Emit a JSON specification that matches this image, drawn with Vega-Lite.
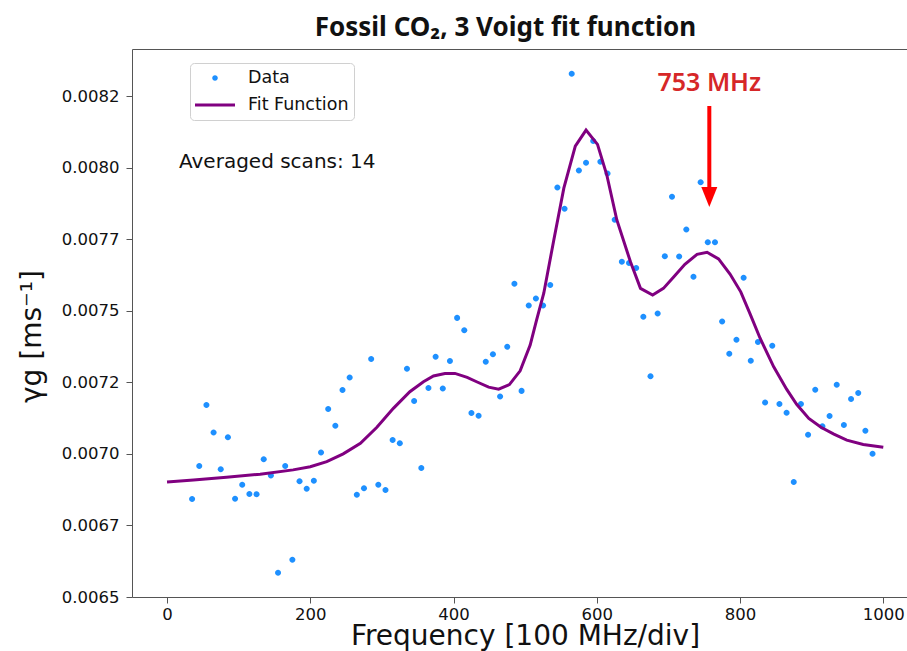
{
  "$schema": "https://vega.github.io/schema/vega-lite/v6.json",
  "width": 775,
  "height": 548,
  "autosize": {"type": "none"},
  "padding": {"left": 132, "top": 49, "right": 0, "bottom": 54},
  "background": "white",
  "title": {
    "text": "Fossil CO₂, 3 Voigt fit function",
    "font": "Liberation Sans Narrow, Noto Sans",
    "fontSize": 26,
    "fontWeight": "bold",
    "color": "#111",
    "anchor": "middle",
    "baseline": "alphabetic",
    "offset": 14,
    "dx": -14,
    "dy": 27
  },
  "config": {
    "view": {"stroke": null},
    "font": "DejaVu Sans",
    "axis": {"grid": false, "domainColor": "#555", "tickColor": "#555", "labelColor": "#111", "titleColor": "#111", "labelFont": "DejaVu Sans", "titleFont": "DejaVu Sans"}
  },
  "resolve": {"axis": {"x": "independent"}},
  "datasets": {
    "points": [
      {"x": 35, "y": 0.006842, "series": "Data"},
      {"x": 45, "y": 0.006958, "series": "Data"},
      {"x": 55, "y": 0.007171, "series": "Data"},
      {"x": 65, "y": 0.007075, "series": "Data"},
      {"x": 75, "y": 0.006946, "series": "Data"},
      {"x": 85, "y": 0.007058, "series": "Data"},
      {"x": 95, "y": 0.006843, "series": "Data"},
      {"x": 105, "y": 0.006892, "series": "Data"},
      {"x": 115, "y": 0.006860, "series": "Data"},
      {"x": 125, "y": 0.006859, "series": "Data"},
      {"x": 135, "y": 0.006981, "series": "Data"},
      {"x": 145, "y": 0.006924, "series": "Data"},
      {"x": 155, "y": 0.006585, "series": "Data"},
      {"x": 165, "y": 0.006958, "series": "Data"},
      {"x": 175, "y": 0.006630, "series": "Data"},
      {"x": 185, "y": 0.006904, "series": "Data"},
      {"x": 195, "y": 0.006878, "series": "Data"},
      {"x": 205, "y": 0.006906, "series": "Data"},
      {"x": 215, "y": 0.007005, "series": "Data"},
      {"x": 225, "y": 0.007157, "series": "Data"},
      {"x": 235, "y": 0.007098, "series": "Data"},
      {"x": 245, "y": 0.007223, "series": "Data"},
      {"x": 255, "y": 0.007267, "series": "Data"},
      {"x": 265, "y": 0.006857, "series": "Data"},
      {"x": 275, "y": 0.006880, "series": "Data"},
      {"x": 285, "y": 0.007331, "series": "Data"},
      {"x": 295, "y": 0.006892, "series": "Data"},
      {"x": 305, "y": 0.006874, "series": "Data"},
      {"x": 315, "y": 0.007048, "series": "Data"},
      {"x": 325, "y": 0.007037, "series": "Data"},
      {"x": 335, "y": 0.007297, "series": "Data"},
      {"x": 345, "y": 0.007185, "series": "Data"},
      {"x": 355, "y": 0.006951, "series": "Data"},
      {"x": 365, "y": 0.007230, "series": "Data"},
      {"x": 375, "y": 0.007339, "series": "Data"},
      {"x": 385, "y": 0.007228, "series": "Data"},
      {"x": 395, "y": 0.007324, "series": "Data"},
      {"x": 405, "y": 0.007475, "series": "Data"},
      {"x": 415, "y": 0.007432, "series": "Data"},
      {"x": 425, "y": 0.007143, "series": "Data"},
      {"x": 435, "y": 0.007133, "series": "Data"},
      {"x": 445, "y": 0.007322, "series": "Data"},
      {"x": 455, "y": 0.007348, "series": "Data"},
      {"x": 465, "y": 0.007200, "series": "Data"},
      {"x": 475, "y": 0.007374, "series": "Data"},
      {"x": 485, "y": 0.007594, "series": "Data"},
      {"x": 495, "y": 0.007220, "series": "Data"},
      {"x": 505, "y": 0.007518, "series": "Data"},
      {"x": 515, "y": 0.007543, "series": "Data"},
      {"x": 525, "y": 0.007518, "series": "Data"},
      {"x": 535, "y": 0.007590, "series": "Data"},
      {"x": 545, "y": 0.007930, "series": "Data"},
      {"x": 555, "y": 0.007856, "series": "Data"},
      {"x": 565, "y": 0.008328, "series": "Data"},
      {"x": 575, "y": 0.007990, "series": "Data"},
      {"x": 585, "y": 0.008017, "series": "Data"},
      {"x": 595, "y": 0.008093, "series": "Data"},
      {"x": 605, "y": 0.008020, "series": "Data"},
      {"x": 615, "y": 0.007979, "series": "Data"},
      {"x": 625, "y": 0.007818, "series": "Data"},
      {"x": 635, "y": 0.007671, "series": "Data"},
      {"x": 645, "y": 0.007667, "series": "Data"},
      {"x": 655, "y": 0.007649, "series": "Data"},
      {"x": 665, "y": 0.007479, "series": "Data"},
      {"x": 675, "y": 0.007271, "series": "Data"},
      {"x": 685, "y": 0.007490, "series": "Data"},
      {"x": 695, "y": 0.007690, "series": "Data"},
      {"x": 705, "y": 0.007898, "series": "Data"},
      {"x": 715, "y": 0.007689, "series": "Data"},
      {"x": 725, "y": 0.007784, "series": "Data"},
      {"x": 735, "y": 0.007619, "series": "Data"},
      {"x": 745, "y": 0.007949, "series": "Data"},
      {"x": 755, "y": 0.007739, "series": "Data"},
      {"x": 765, "y": 0.007739, "series": "Data"},
      {"x": 775, "y": 0.007462, "series": "Data"},
      {"x": 785, "y": 0.007350, "series": "Data"},
      {"x": 795, "y": 0.007399, "series": "Data"},
      {"x": 805, "y": 0.007615, "series": "Data"},
      {"x": 815, "y": 0.007325, "series": "Data"},
      {"x": 825, "y": 0.007391, "series": "Data"},
      {"x": 835, "y": 0.007179, "series": "Data"},
      {"x": 845, "y": 0.007378, "series": "Data"},
      {"x": 855, "y": 0.007174, "series": "Data"},
      {"x": 865, "y": 0.007144, "series": "Data"},
      {"x": 875, "y": 0.006902, "series": "Data"},
      {"x": 885, "y": 0.007174, "series": "Data"},
      {"x": 895, "y": 0.007067, "series": "Data"},
      {"x": 905, "y": 0.007224, "series": "Data"},
      {"x": 915, "y": 0.007096, "series": "Data"},
      {"x": 925, "y": 0.007132, "series": "Data"},
      {"x": 935, "y": 0.007241, "series": "Data"},
      {"x": 945, "y": 0.007101, "series": "Data"},
      {"x": 955, "y": 0.007192, "series": "Data"},
      {"x": 965, "y": 0.007213, "series": "Data"},
      {"x": 975, "y": 0.007081, "series": "Data"},
      {"x": 985, "y": 0.007000, "series": "Data"}
    ],
    "fit": [
      {"x": 0, "y": 0.006902},
      {"x": 37, "y": 0.006909},
      {"x": 83, "y": 0.006918},
      {"x": 130, "y": 0.006929},
      {"x": 176, "y": 0.006944},
      {"x": 200, "y": 0.006955},
      {"x": 223, "y": 0.006973},
      {"x": 246, "y": 0.007000},
      {"x": 270, "y": 0.007037},
      {"x": 293, "y": 0.007093},
      {"x": 316, "y": 0.007159},
      {"x": 339, "y": 0.007217},
      {"x": 358, "y": 0.007252},
      {"x": 372, "y": 0.007272},
      {"x": 388, "y": 0.007281},
      {"x": 402, "y": 0.007281},
      {"x": 419, "y": 0.007267},
      {"x": 433, "y": 0.007251},
      {"x": 449, "y": 0.007233},
      {"x": 463, "y": 0.007226},
      {"x": 478, "y": 0.007242},
      {"x": 493, "y": 0.007290},
      {"x": 507, "y": 0.007380},
      {"x": 516, "y": 0.007468},
      {"x": 526, "y": 0.007561},
      {"x": 540, "y": 0.007747},
      {"x": 554, "y": 0.007928},
      {"x": 570, "y": 0.008075},
      {"x": 585, "y": 0.008131},
      {"x": 601, "y": 0.008081},
      {"x": 614, "y": 0.007974},
      {"x": 628, "y": 0.007817},
      {"x": 647, "y": 0.007671},
      {"x": 661, "y": 0.007578},
      {"x": 678, "y": 0.007555},
      {"x": 693, "y": 0.007578},
      {"x": 707, "y": 0.007617},
      {"x": 723, "y": 0.007662},
      {"x": 740, "y": 0.007697},
      {"x": 754, "y": 0.007704},
      {"x": 770, "y": 0.007681},
      {"x": 786, "y": 0.007628},
      {"x": 801, "y": 0.007566},
      {"x": 814, "y": 0.007489},
      {"x": 828, "y": 0.007404},
      {"x": 847, "y": 0.007304},
      {"x": 865, "y": 0.007226},
      {"x": 879, "y": 0.007173},
      {"x": 896, "y": 0.007124},
      {"x": 913, "y": 0.007093},
      {"x": 931, "y": 0.007069},
      {"x": 949, "y": 0.007048},
      {"x": 972, "y": 0.007033},
      {"x": 1000, "y": 0.007023}
    ]
  },
  "layer": [
    {
      "data": {"name": "points"},
      "mark": {"type": "point", "filled": true, "size": 1840, "opacity": 1, "strokeWidth": 0},
      "encoding": {
        "x": {
          "field": "x", "type": "quantitative",
          "scale": {"domain": [-48.9, 1033.1], "nice": false, "zero": false},
          "axis": {"orient": "bottom", "values": [0, 200, 400, 600, 800, 1000], "format": "d", "labelFontSize": 16.5, "tickSize": 6, "labelPadding": 3, "title": "Frequency [100 MHz/div]", "titleFontSize": 28, "titleFontWeight": "normal", "titleBaseline": "alphabetic", "titleY": 47, "titleX": 393}
        },
        "y": {
          "field": "y", "type": "quantitative",
          "scale": {"domain": [0.0065, 0.0084142], "nice": false, "zero": false},
          "axis": {"values": [0.0065, 0.00675, 0.007, 0.00725, 0.0075, 0.00775, 0.008, 0.00825], "labelExpr": "format(floor(datum.value * 10000 + 0.000001) / 10000, '.4f')", "labelFontSize": 16.5, "tickSize": 6, "labelPadding": 7, "title": "γg [ms⁻¹]", "titleFontSize": 28, "titleFontWeight": "normal", "titleAngle": -90, "titleX": -100, "titleY": 287, "titleAlign": "center", "titleBaseline": "middle"}
        },
        "color": {
          "field": "series", "type": "nominal",
          "scale": {"domain": ["Data", "Fit Function"], "range": ["#1e90ff", "#800080"]},
          "legend": {
            "orient": "none", "legendX": 58, "legendY": 14, "title": null,
            "labelFontSize": 17.5, "labelFont": "DejaVu Sans", "labelColor": "#111",
            "labelOffset": 13, "padding": 5, "clipHeight": 20, "rowPadding": 7,
            "symbolSize": 1600, "symbolStrokeWidth": 0,
            "strokeColor": "#d0d0d0", "cornerRadius": 4, "fillColor": "white"
          }
        },
        "shape": {
          "field": "series", "type": "nominal",
          "scale": {"domain": ["Data", "Fit Function"], "range": ["M-0.14,0A0.14,0.14,0,1,0,0.14,0A0.14,0.14,0,1,0,-0.14,0Z", "M-1,-0.075L1,-0.075L1,0.075L-1,0.075Z"]},
          "legend": {
            "orient": "none", "legendX": 58, "legendY": 14, "title": null,
            "labelFontSize": 17.5, "labelFont": "DejaVu Sans", "labelColor": "#111",
            "labelOffset": 13, "padding": 5, "clipHeight": 20, "rowPadding": 7,
            "symbolSize": 1600, "symbolStrokeWidth": 0,
            "strokeColor": "#d0d0d0", "cornerRadius": 4, "fillColor": "white"
          }
        }
      }
    },
    {
      "data": {"name": "fit"},
      "mark": {"type": "line", "strokeWidth": 3, "color": "#800080"},
      "encoding": {
        "x": {
          "field": "x", "type": "quantitative",
          "scale": {"domain": [-48.9, 1033.1], "nice": false, "zero": false},
          "axis": {"orient": "top", "labels": false, "ticks": false, "title": null, "domainColor": "#555"}
        },
        "y": {"field": "y", "type": "quantitative", "scale": {"domain": [0.0065, 0.0084142], "nice": false, "zero": false}}
      }
    },
    {
      "data": {"values": [{"x": 16.75, "y": 0.0079985, "label": "Averaged scans: 14"}]},
      "mark": {"type": "text", "align": "left", "baseline": "alphabetic", "fontSize": 20, "font": "DejaVu Sans", "color": "#111"},
      "encoding": {
        "x": {"field": "x", "type": "quantitative", "axis": null, "scale": {"domain": [-48.9, 1033.1], "nice": false, "zero": false}},
        "y": {"field": "y", "type": "quantitative", "scale": {"domain": [0.0065, 0.0084142], "nice": false, "zero": false}},
        "text": {"field": "label"}
      }
    },
    {
      "data": {"values": [{"x": 757.1, "y": 0.0082675, "label": "753 MHz"}]},
      "mark": {"type": "text", "align": "center", "baseline": "alphabetic", "fontSize": 25, "fontWeight": 600, "font": "Liberation Sans Narrow, Noto Sans", "color": "#d62728"},
      "encoding": {
        "x": {"field": "x", "type": "quantitative", "axis": null, "scale": {"domain": [-48.9, 1033.1], "nice": false, "zero": false}},
        "y": {"field": "y", "type": "quantitative", "scale": {"domain": [0.0065, 0.0084142], "nice": false, "zero": false}},
        "text": {"field": "label"}
      }
    },
    {
      "data": {"values": [{"x": 757.1, "y": 0.0082151, "y2": 0.0079216}]},
      "mark": {"type": "rule", "strokeWidth": 4, "color": "#ff0000"},
      "encoding": {
        "x": {"field": "x", "type": "quantitative", "axis": null, "scale": {"domain": [-48.9, 1033.1], "nice": false, "zero": false}},
        "y": {"field": "y", "type": "quantitative", "scale": {"domain": [0.0065, 0.0084142], "nice": false, "zero": false}},
        "y2": {"field": "y2"}
      }
    },
    {
      "data": {"values": [{"x": 757.1, "y": 0.0078972}]},
      "mark": {"type": "point", "filled": true, "opacity": 1, "color": "#ff0000", "size": 400, "shape": "M-0.8,-1L0.8,-1L0,1Z", "strokeWidth": 0},
      "encoding": {
        "x": {"field": "x", "type": "quantitative", "axis": null, "scale": {"domain": [-48.9, 1033.1], "nice": false, "zero": false}},
        "y": {"field": "y", "type": "quantitative", "scale": {"domain": [0.0065, 0.0084142], "nice": false, "zero": false}}
      }
    }
  ]
}
